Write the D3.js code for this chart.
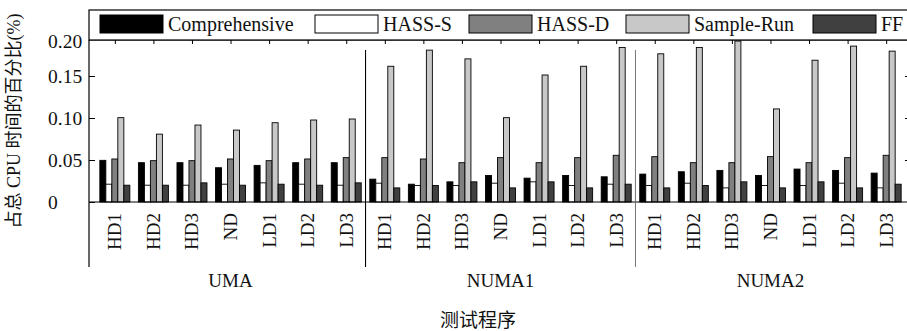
<!DOCTYPE html>
<html>
<head>
<meta charset="utf-8">
<script src="https://cdn.jsdelivr.net/npm/d3@7/dist/d3.min.js"></script>
<style>
  html, body { margin: 0; padding: 0; background: #fff; }
  svg { display: block; }
  text { font-family: "Liberation Serif", "Times New Roman", "Noto Sans CJK SC", serif; fill: #111; }
</style>
</head>
<body>
<svg id="chart" width="907" height="331"></svg>
<script>
// Platforms and the test programs run on each
const groups = ["UMA", "NUMA1", "NUMA2"];
const programs = ["HD1", "HD2", "HD3", "ND", "LD1", "LD2", "LD3"];
const seriesNames = ["Comprehensive", "HASS-S", "HASS-D", "Sample-Run", "FF"];

// Share of total CPU time (%), 7 programs per platform, UMA | NUMA1 | NUMA2
const comprehensive = [0.0496, 0.0468, 0.0468, 0.0408, 0.0436, 0.0468, 0.0468,
                       0.0272, 0.0212, 0.0240, 0.0316, 0.0284, 0.0316, 0.0300,
                       0.0332, 0.0360, 0.0376, 0.0316, 0.0392, 0.0376, 0.0344];
const hassS = [0.0212, 0.0200, 0.0200, 0.0212, 0.0228, 0.0212, 0.0200,
               0.0224, 0.0196, 0.0196, 0.0224, 0.0240, 0.0196, 0.0212,
               0.0196, 0.0224, 0.0168, 0.0196, 0.0196, 0.0224, 0.0168];
const hassD = [0.0512, 0.0492, 0.0492, 0.0512, 0.0492, 0.0512, 0.0528,
               0.0528, 0.0512, 0.0468, 0.0528, 0.0468, 0.0528, 0.0556,
               0.0540, 0.0468, 0.0468, 0.0540, 0.0468, 0.0528, 0.0556];
const sampleRun = [0.1004, 0.0808, 0.0916, 0.0856, 0.0944, 0.0976, 0.0988,
                   0.1616, 0.1808, 0.1704, 0.1004, 0.1512, 0.1616, 0.1840,
                   0.1764, 0.1840, 0.1916, 0.1108, 0.1688, 0.1856, 0.1796];
const ff = [0.0200, 0.0200, 0.0228, 0.0200, 0.0212, 0.0200, 0.0228,
            0.0168, 0.0196, 0.0240, 0.0168, 0.0240, 0.0168, 0.0212,
            0.0168, 0.0196, 0.0240, 0.0168, 0.0240, 0.0168, 0.0212];

const yTicks = [0, 0.05, 0.10, 0.15, 0.20];
const yTickLabels = ["0", "0.05", "0.10", "0.15", "0.20"];
const seriesColors = ["#000000", "#ffffff", "#808080", "#c8c8c8", "#404040"];

const seriesValues = [comprehensive, hassS, hassD, sampleRun, ff];

// Flattened category list: one entry per (platform, program)
const categories = [];
groups.forEach(g => programs.forEach(p => categories.push({ group: g, program: p, id: g + "-" + p })));

const svg = d3.select("#chart");

const frame = { left: 89, right: 910, top: 40, axisBottom: 267 };
const zeroY = 202;

const x = d3.scalePoint()
  .domain(categories.map(c => c.id))
  .range([89, 912])
  .padding(0.67);

const xs = d3.scaleBand()
  .domain(seriesNames)
  .range([-15, 15])
  .padding(0);

const y = d3.scaleLinear()
  .domain([0, 0.2])
  .range([zeroY, zeroY - 168]);

// Bars
const cat = svg.append("g").selectAll("g")
  .data(categories)
  .join("g")
  .attr("transform", d => `translate(${x(d.id)},0)`);

cat.selectAll("rect")
  .data((d, i) => seriesNames.map((s, k) => ({ s, k, v: seriesValues[k][i] })))
  .join("rect")
  .attr("x", d => xs(d.s))
  .attr("width", xs.bandwidth())
  .attr("y", d => y(d.v))
  .attr("height", d => y(0) - y(d.v))
  .attr("fill", d => seriesColors[d.k])
  .attr("stroke", "#000")
  .attr("stroke-width", 0.9);

// Left value axis with inward ticks, labels left-aligned
const yAxis = d3.axisRight(y)
  .tickValues(yTicks)
  .tickSize(6)
  .tickFormat((d, i) => yTickLabels[i]);
const ya = svg.append("g")
  .attr("transform", `translate(${frame.left},0)`)
  .call(yAxis);
ya.select(".domain").remove();
ya.selectAll(".tick line").attr("stroke", "#000");
ya.selectAll(".tick text")
  .attr("x", 48 - frame.left)
  .attr("dy", "0.35em")
  .attr("text-anchor", "start")
  .style("font-size", "19.5px")
  .attr("fill", "#111");
// Top label sits against the frame edge; its tick is hidden by the legend strip
ya.selectAll(".tick").filter(d => d === 0.2)
  .attr("transform", `translate(0,${frame.top + 1})`)
  .select("line").remove();

// Right value axis (ticks only)
const yAxisR = d3.axisLeft(y).tickValues([0.05, 0.10, 0.15]).tickSize(5).tickFormat("");
const yr = svg.append("g")
  .attr("transform", `translate(${frame.right},0)`)
  .call(yAxisR);
yr.select(".domain").remove();
yr.selectAll(".tick line").attr("stroke", "#000");

// Top ticks at category centres
const xTop = d3.axisBottom(x).tickSize(4).tickFormat("");
const xt = svg.append("g")
  .attr("transform", `translate(0,${frame.top})`)
  .call(xTop);
xt.select(".domain").remove();
xt.selectAll(".tick line").attr("stroke", "#000");

// Frame lines
svg.append("line").attr("x1", frame.left).attr("x2", frame.right + 5)
  .attr("y1", frame.top).attr("y2", frame.top).attr("stroke", "#000").attr("stroke-width", 1.2);
svg.append("line").attr("x1", frame.left).attr("x2", frame.left)
  .attr("y1", frame.top).attr("y2", frame.axisBottom).attr("stroke", "#000").attr("stroke-width", 1.2);
svg.append("line").attr("x1", frame.right).attr("x2", frame.right)
  .attr("y1", frame.top).attr("y2", frame.axisBottom).attr("stroke", "#000");
svg.append("line").attr("x1", frame.left).attr("x2", frame.right + 5)
  .attr("y1", zeroY).attr("y2", zeroY).attr("stroke", "#000").attr("stroke-width", 1.2);

// Separators between platforms
const step = x.step();
[1, 2].forEach((gi, j) => {
  const sx = x(categories[gi * programs.length].id) - step / 2;
  svg.append("line")
    .attr("x1", sx).attr("x2", sx)
    .attr("y1", 50).attr("y2", frame.axisBottom)
    .attr("stroke", j === 0 ? "#000" : "#666")
    .attr("stroke-width", j === 0 ? 1.1 : 0.9);
});

// Program labels, rotated
svg.append("g").selectAll("text")
  .data(categories)
  .join("text")
  .attr("transform", d => `translate(${x(d.id) + 6.5},213) rotate(-90)`)
  .attr("text-anchor", "end")
  .style("font-size", "19px")
  .text(d => d.program);

// Platform labels
svg.append("g").selectAll("text")
  .data(groups)
  .join("text")
  .attr("x", (g, i) => (x(categories[i * 7].id) + x(categories[i * 7 + 6].id)) / 2)
  .attr("y", 287)
  .attr("text-anchor", "middle")
  .style("font-size", "19px")
  .text(g => g);

// Axis titles
svg.append("text")
  .attr("x", 478).attr("y", 327)
  .attr("text-anchor", "middle")
  .style("font-size", "19px")
  .attr("fill", "#333")
  .text("测试程序");

svg.append("text")
  .attr("transform", "translate(20,121) rotate(-90)")
  .attr("text-anchor", "middle")
  .style("font-size", "18px")
  .attr("fill", "#333")
  .text("占总 CPU 时间的百分比(%)");

// Legend strip
const legend = svg.append("g");
legend.append("rect")
  .attr("x", frame.left).attr("y", 10)
  .attr("width", frame.right + 10 - frame.left).attr("height", frame.top - 10)
  .attr("fill", "#fff").attr("stroke", "#000").attr("stroke-width", 1.2);
const legendX = [100, 315, 469, 626, 813];
const items = legend.selectAll("g")
  .data(seriesNames)
  .join("g")
  .attr("transform", (d, i) => `translate(${legendX[i]},0)`);
items.append("rect")
  .attr("x", 0).attr("y", 15).attr("width", 63).attr("height", 18)
  .attr("fill", (d, i) => seriesColors[i])
  .attr("stroke", "#000").attr("stroke-width", 1);
items.append("text")
  .attr("x", 68).attr("y", 31)
  .style("font-size", "20px")
  .text(d => d);
</script>
</body>
</html>
